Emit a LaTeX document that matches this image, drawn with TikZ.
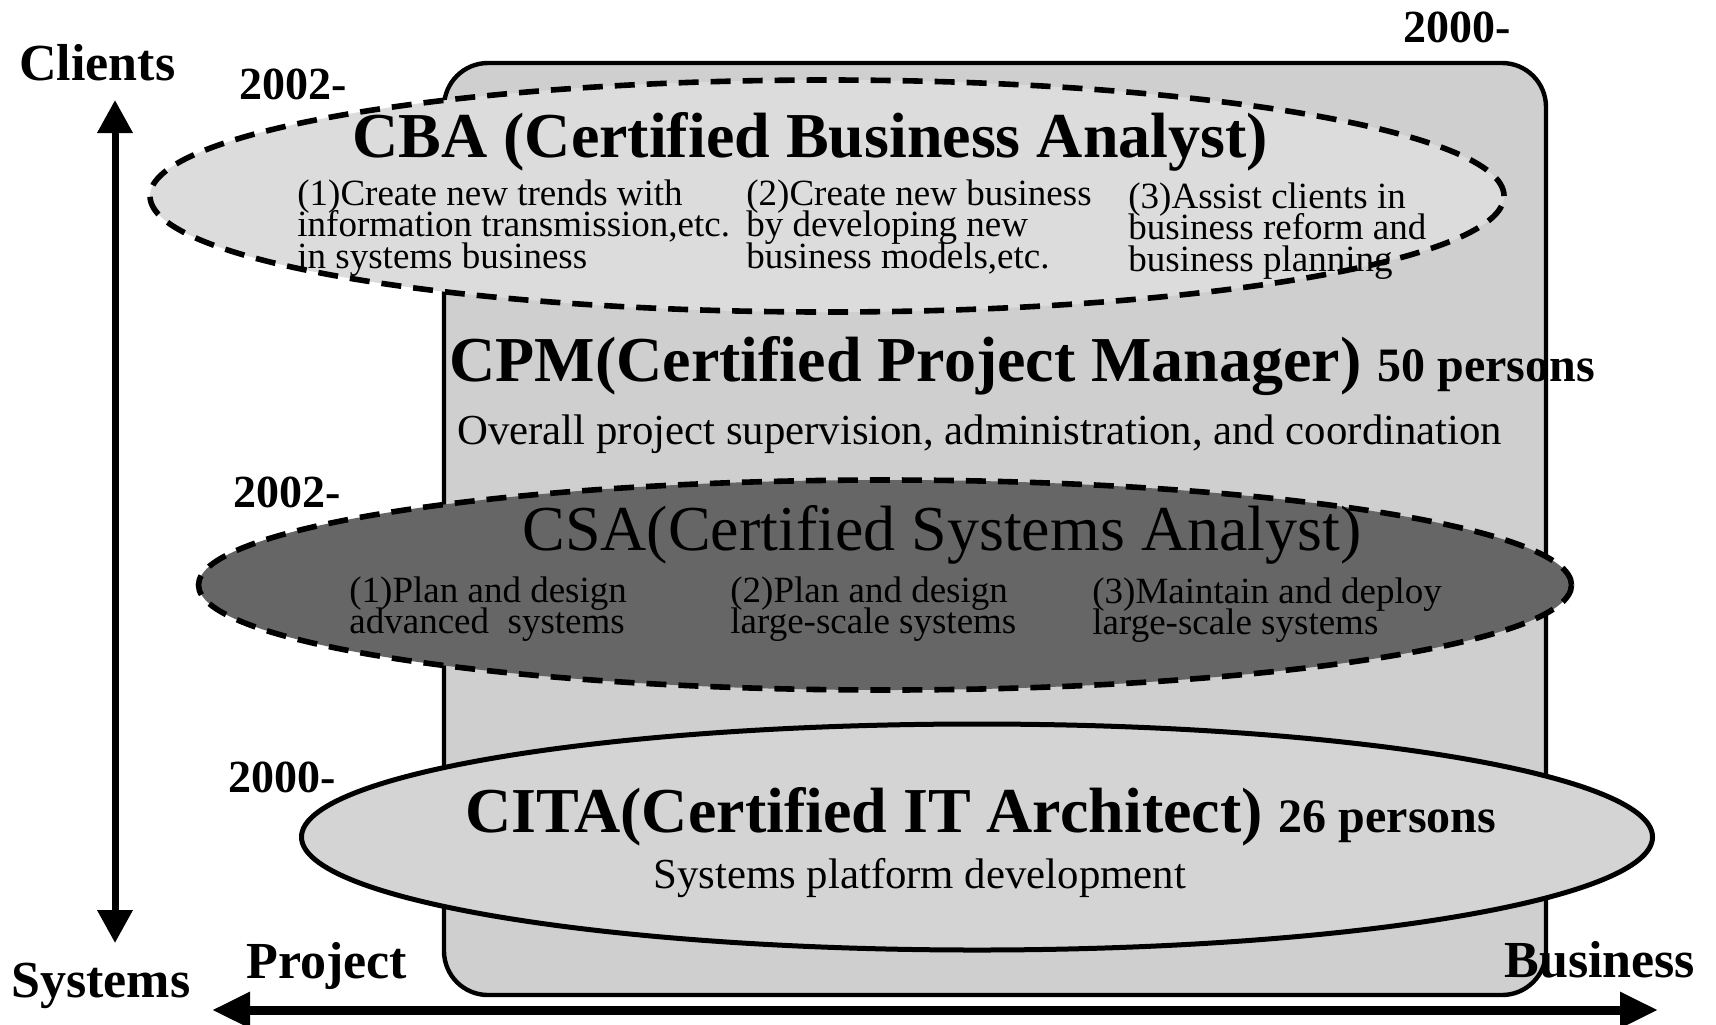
\documentclass[tikz,border=0pt]{standalone}
\usepackage{fontspec}
\setmainfont{Liberation Serif}
\usetikzlibrary{shapes.geometric,arrows.meta}

\definecolor{framegray}{HTML}{CFCFCF}
\definecolor{cbagray}{HTML}{DCDCDC}
\definecolor{csagray}{HTML}{666666}
\definecolor{citagray}{HTML}{D4D4D4}

% stacked lines with a fixed, tight line pitch; baseline = first line
\newcommand\colstack[1]{\vtop{\baselineskip=15.75pt\lineskiplimit=-100pt\lineskip=0pt #1}}

\begin{document}
\begin{tikzpicture}[x=0.5pt,y=-0.5pt,
  txt/.style={inner sep=0pt,anchor=base west},
  axislabel/.style={txt,font=\bfseries\fontsize{26}{26}\selectfont},
  yearlabel/.style={txt,font=\bfseries\fontsize{23}{23}\selectfont},
  titlelabel/.style={txt,font=\bfseries\fontsize{32}{32}\selectfont},
  plaintitle/.style={txt,font=\fontsize{32}{32}\selectfont},
  desclabel/.style={txt,font=\fontsize{21.4}{21.4}\selectfont},
  itemlabel/.style={txt,font=\fontsize{18.5}{15.75}\selectfont},
  frame/.style={draw,line width=2.2pt,fill=framegray,rounded corners=22pt,
    inner sep=0pt,minimum width=551pt,minimum height=466pt},
  certell/.style={ellipse,draw,line width=2.5pt,inner sep=0pt},
  dashedell/.style={certell,line width=2.8pt,dash pattern=on 10pt off 6pt},
  axis/.style={line width=3.5pt,{Triangle[length=16.5pt,width=17pt]}-{Triangle[length=16.5pt,width=17pt]}},
  haxis/.style={line width=4.5pt,{Triangle[length=19pt,width=17pt]}-{Triangle[length=19pt,width=17pt]}}
]
\useasboundingbox (0,0) rectangle (1716,1024);

% project-manager frame behind everything
\node[frame] (frame) at (995,529) {};

% certification ellipses
\node[dashedell,fill=cbagray,minimum width=677pt,minimum height=116pt] (cba) at (827,196) {};
\node[dashedell,fill=csagray,minimum width=686.5pt,minimum height=105pt] (csa) at (885,585) {};
\node[certell,fill=citagray,minimum width=675.5pt,minimum height=113pt] (cita) at (977,837) {};

% axes
\coordinate (vtop) at (115,100);
\coordinate (vbot) at (115,943);
\coordinate (hleft) at (212,1010);
\coordinate (hright) at (1658,1010);
\draw[axis] (vtop) -- (vbot);
\draw[haxis] (hleft) -- (hright);

% axis labels
\node[axislabel] (clients) at (19,80) {Clients};
\node[axislabel] (systems) at (11,997) {Systems};
\node[axislabel] (project) at (246,978) {Project};
\node[axislabel] (business) at (1504,977) {Business};

% start years
\node[yearlabel] (ycpm) at (1403,42) {2000-};
\node[yearlabel] (ycba) at (239,99) {2002-};
\node[yearlabel] (ycsa) at (233,507) {2002-};
\node[yearlabel] (ycita) at (228,792) {2000-};

% CBA
\node[titlelabel] (cbatitle) at (352,157) {CBA (Certified Business Analyst)};
\node[itemlabel] (cba1) at (297,205) {\colstack{\hbox{(1)Create new trends with}\hbox{information transmission,etc.}\hbox{in systems business}}};
\node[itemlabel] (cba2) at (746,205) {\colstack{\hbox{(2)Create new business}\hbox{by developing new}\hbox{business models,etc.}}};
\node[itemlabel] (cba3) at (1128,208) {\colstack{\hbox{(3)Assist clients in}\hbox{business reform and}\hbox{business planning}}};

% CPM
\node[titlelabel] (cpmtitle) at (449,381) {CPM(Certified Project Manager) {\fontsize{24}{24}\selectfont 50 persons}};
\node[desclabel] (cpmdesc) at (457,444) {Overall project supervision, administration, and coordination};

% CSA
\node[plaintitle] (csatitle) at (522,550) {CSA(Certified Systems Analyst)};
\node[itemlabel] (csa1) at (349,602) {\colstack{\hbox{(1)Plan and design}\hbox{advanced\ \ systems}}};
\node[itemlabel] (csa2) at (730,602) {\colstack{\hbox{(2)Plan and design}\hbox{large-scale systems}}};
\node[itemlabel] (csa3) at (1092,603) {\colstack{\hbox{(3)Maintain and deploy}\hbox{large-scale systems}}};

% CITA
\node[titlelabel] (citatitle) at (465,832) {CITA(Certified IT Architect) {\fontsize{24}{24}\selectfont 26 persons}};
\node[desclabel] (citadesc) at (653,888) {Systems platform development};
\end{tikzpicture}
\end{document}
